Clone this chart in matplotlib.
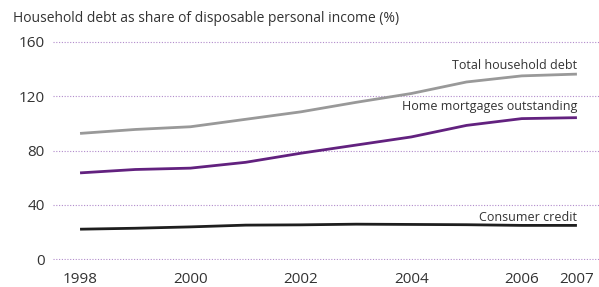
import matplotlib.pyplot as plt

years = [1998, 1999, 2000, 2001, 2002, 2003, 2004, 2005, 2006, 2007]
total_debt = [92.6, 95.5, 97.5, 103, 108.5, 115.5, 122, 130.5, 135, 136.3]
mortgages = [63.5, 66, 67, 71.3, 78, 84, 90, 98.5, 103.5, 104.2]
consumer_credit = [22, 22.7, 23.7, 25, 25.2, 25.7, 25.5, 25.3, 24.8, 24.8]

xticks = [1998, 2000, 2002, 2004, 2006, 2007]
yticks = [0, 40, 80, 120, 160]

plt.rcParams['font.family'] = ['Open Sans', 'DejaVu Sans']

W, H = 599, 287
fig = plt.figure(figsize=(W / 100, H / 100), dpi=100)
left, right = 53, 599
top, bottom = 40.6, 260.4
ax = fig.add_axes([left / W, 1 - bottom / H, (right - left) / W, (bottom - top) / H])

gray = '#999999'
purple = '#62217f'
black = '#1e1e1e'

ax.plot(years, total_debt, color=gray, lw=2.0, solid_capstyle='butt')
ax.plot(years, mortgages, color=purple, lw=2.0, solid_capstyle='butt')
ax.plot(years, consumer_credit, color=black, lw=2.0, solid_capstyle='butt')

ax.set_xlim(1997.51, 2007.4)
ax.set_ylim(-1, 161)
ax.set_xticks(xticks)
ax.set_yticks(yticks)
ax.tick_params(length=0, labelsize=11, labelcolor='#333333')
ax.tick_params(axis='x', pad=8)
ax.tick_params(axis='y', pad=6)
for lbl in ax.get_yticklabels():
    lbl.set_horizontalalignment('right')

for s in ax.spines.values():
    s.set_visible(False)
ax.set_axisbelow(True)
ax.yaxis.grid(True, color='#b18bcb', linestyle=(0, (1, 1.5)), linewidth=0.8)

ax.text(2007, 142.4, 'Total household debt', ha='right', va='center',
        fontsize=9, color='#333333')
ax.text(2007, 112.6, 'Home mortgages outstanding', ha='right', va='center',
        fontsize=9, color='#333333')
ax.text(2007, 30.6, 'Consumer credit', ha='right', va='center',
        fontsize=9, color='#333333')

fig.text(13 / W, 1 - 19 / H, 'Household debt as share of disposable personal income (%)',
         ha='left', va='center', fontsize=10, color='#333333')

fig.savefig('out.png', dpi=100)
